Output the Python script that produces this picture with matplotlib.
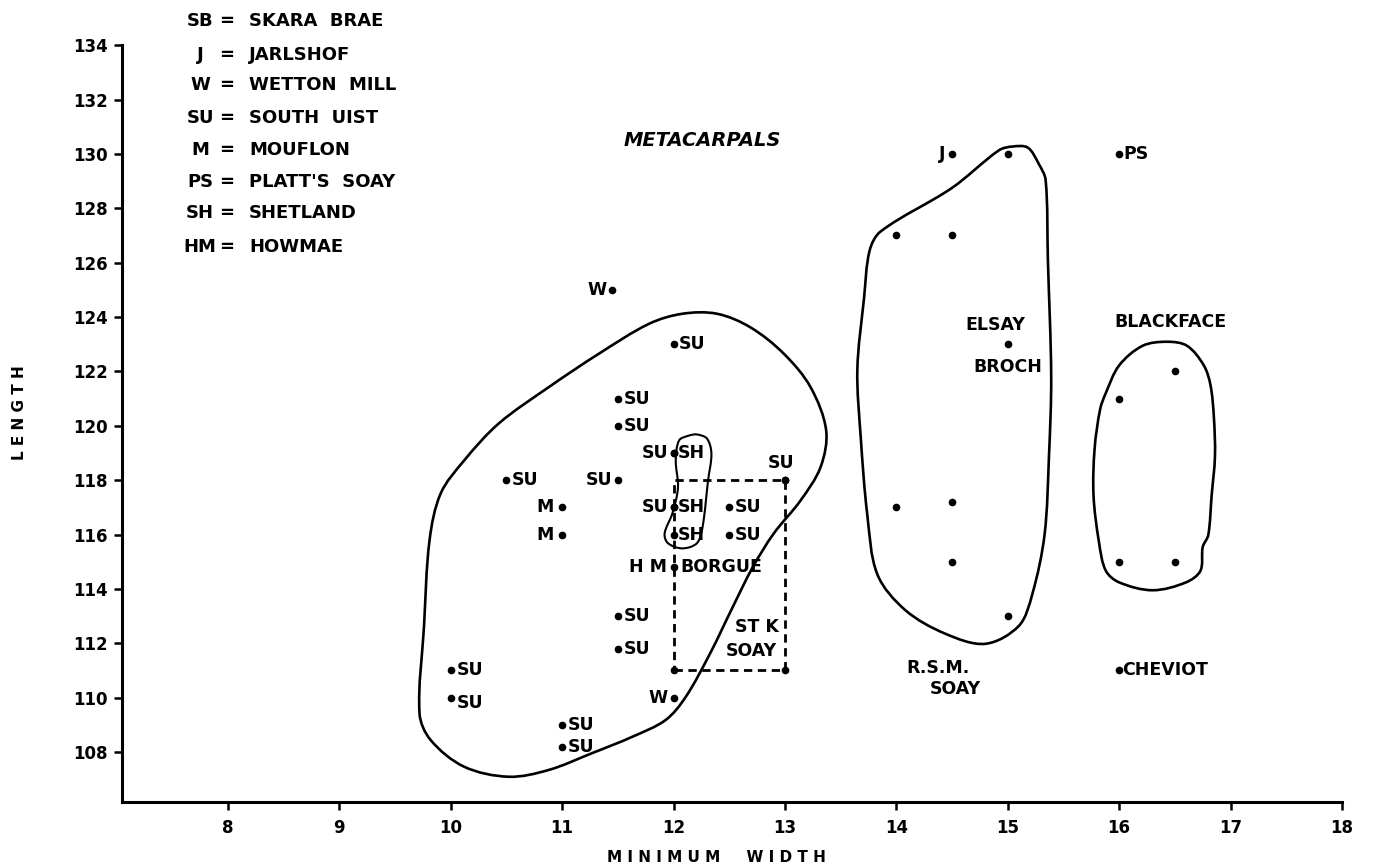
import numpy as np
import matplotlib.pyplot as plt
from matplotlib.path import Path
from matplotlib.patches import PathPatch, Rectangle

# ---- data (minimum width, length) ----
su_x = [12.0, 11.5, 11.5, 12.0, 10.5, 11.5, 12.0, 12.5, 12.5, 11.5, 11.5, 10.0, 10.0, 11.0, 11.0, 13.0]
su_y = [123.0, 121.0, 120.0, 119.0, 118.0, 118.0, 117.0, 117.0, 116.0, 113.0, 111.8, 111.0, 110.0, 109.0, 108.2, 118.0]
su_side = ['r', 'r', 'r', 'l', 'r', 'l', 'l', 'r', 'r', 'r', 'r', 'r', 'r', 'r', 'r', 'u']

sh_x = [12.0, 12.0, 12.0]
sh_y = [119.0, 117.0, 116.0]

m_x = [11.0, 11.0]
m_y = [117.0, 116.0]

w_x = [11.45, 12.0]
w_y = [125.0, 110.0]

hm_x, hm_y = 12.0, 114.8
j_x, j_y = 14.5, 130.0
ps_x, ps_y = 16.0, 130.0
elsay_x, elsay_y = 15.0, 123.0
cheviot_x, cheviot_y = 16.0, 111.0

rsm_x = [15.0, 14.0, 14.5, 14.0, 14.5, 14.5, 15.0]
rsm_y = [130.0, 127.0, 127.0, 117.0, 117.2, 115.0, 113.0]

bf_x = [16.5, 16.0, 16.0, 16.5]
bf_y = [122.0, 121.0, 115.0, 115.0]

stk_x = [12.0, 13.0]      # St Kilda Soay range
stk_y = [111.0, 118.0]

legend_abbr = ['SB', 'J', 'W', 'SU', 'M', 'PS', 'SH', 'HM']
legend_name = ['SKARA  BRAE', 'JARLSHOF', 'WETTON  MILL', 'SOUTH  UIST',
               'MOUFLON', "PLATT'S  SOAY", 'SHETLAND', 'HOWMAE']

# hand-drawn outlines
big_x = [9.72, 9.76, 9.81, 9.91, 10.12, 10.43, 10.88, 11.33, 11.78, 12.08, 12.39, 12.69, 12.99,
         13.23, 13.37, 13.32, 13.14, 12.90, 12.71, 12.53, 12.33, 12.11, 11.93, 11.63, 11.27,
         10.88, 10.52, 10.12, 9.82]
big_y = [109.42, 112.6, 115.79, 117.51, 118.72, 120.08, 121.42, 122.65, 123.75, 124.12, 124.12,
         123.62, 122.65, 121.42, 119.83, 118.48, 117.25, 116.04, 114.79, 113.32, 111.64,
         110.03, 109.18, 108.56, 107.96, 107.34, 107.09, 107.46, 108.44]

shc_x = [12.14, 12.05, 12.02, 12.04, 11.99, 11.92, 11.95, 12.08, 12.21, 12.26, 12.31, 12.34, 12.30, 12.21]
shc_y = [119.64, 119.46, 118.72, 117.73, 116.78, 116.04, 115.68, 115.49, 115.68, 116.26,
         117.99, 118.98, 119.53, 119.68]

rsmc_x = [13.86, 14.50, 14.92, 15.04, 15.18, 15.28, 15.34, 15.36, 15.39, 15.37, 15.33,
          15.22, 15.10, 14.80, 14.44, 14.08, 13.83, 13.74, 13.68, 13.65, 13.71, 13.76]
rsmc_y = [127.15, 128.75, 130.13, 130.27, 130.23, 129.62, 129.04, 126.14, 121.78,
          118.88, 115.98, 113.80, 112.64, 111.98, 112.35, 113.22, 114.53, 116.70, 119.60,
          122.07, 124.69, 126.44]

bfc_x = [16.43, 16.61, 16.76, 16.82, 16.85, 16.86, 16.83, 16.80, 16.75, 16.73, 16.60, 16.30,
         16.00, 15.88, 15.82, 15.77, 15.78, 15.83, 15.88, 16.00, 16.21]
bfc_y = [123.09, 122.94, 122.22, 121.49, 120.33, 118.88, 117.43, 115.98, 115.54, 114.67,
         114.24, 113.95, 114.24, 114.67, 115.69, 117.43, 119.17, 120.62, 121.20, 122.22, 122.94]

PX_PER_X, PX_PER_Y = 111.4, 27.2   # drawing scale, only used to space the curve's handles


def closed_curve(xs, ys):
    # smooth closed outline through the traced points (chord-length cubic Beziers)
    p = np.column_stack([xs, ys])
    n = len(p)
    scale = np.array([PX_PER_X, PX_PER_Y])
    d = [np.linalg.norm((p[(i + 1) % n] - p[i]) * scale) for i in range(n)]
    tang = [(p[(i + 1) % n] - p[i - 1]) / (d[i - 1] + d[i]) for i in range(n)]
    verts = [p[0]]
    codes = [Path.MOVETO]
    for i in range(n):
        j = (i + 1) % n
        verts += [p[i] + tang[i] * d[i] / 3, p[j] - tang[j] * d[i] / 3, p[j]]
        codes += [Path.CURVE4] * 3
    return Path(verts, codes)


plt.rcParams['font.family'] = 'DejaVu Sans'
plt.rcParams['font.weight'] = 'bold'

fig = plt.figure(figsize=(13.73, 8.68), dpi=100)
ax = fig.add_axes([0.0889, 0.076, 0.8885, 0.872])
ax.set_xlim(7.05, 18.0)
ax.set_ylim(106.16, 134.0)

FS = 12.5
dot = dict(color='black', marker='o', markersize=4.5, linestyle='none')


def label(x, y, txt, side='r', dx=4, dy=0):
    if side == 'r':
        ax.annotate(txt, (x, y), xytext=(dx, dy), textcoords='offset points',
                    ha='left', va='center', fontsize=FS, fontweight='bold')
    elif side == 'l':
        ax.annotate(txt, (x, y), xytext=(-dx, dy), textcoords='offset points',
                    ha='right', va='center', fontsize=FS, fontweight='bold')
    else:
        ax.annotate(txt, (x, y), xytext=(-3, 6), textcoords='offset points',
                    ha='center', va='bottom', fontsize=FS, fontweight='bold')


# outlines
for cx, cy, lw in [(big_x, big_y, 1.9), (shc_x, shc_y, 1.5), (rsmc_x, rsmc_y, 1.9), (bfc_x, bfc_y, 1.9)]:
    ax.add_patch(PathPatch(closed_curve(cx, cy), facecolor='none', edgecolor='black', lw=lw))

ax.add_patch(Rectangle((stk_x[0], stk_y[0]), stk_x[1] - stk_x[0], stk_y[1] - stk_y[0],
                       fill=False, edgecolor='black', lw=2.0, linestyle=(0, (3, 2))))
ax.plot([stk_x[1], stk_x[0], stk_x[1]], [stk_y[0], stk_y[0], stk_y[1]], **dot)

# points
ax.plot(su_x, su_y, **dot)
for x, y, s in zip(su_x, su_y, su_side):
    dy = -4 if (x, y) == (10.0, 110.0) else 0
    label(x, y, 'SU', s, dy=dy)

ax.plot(sh_x, sh_y, **dot)
for x, y in zip(sh_x, sh_y):
    label(x, y, 'SH', 'r', dx=3)

ax.plot(m_x, m_y, **dot)
for x, y in zip(m_x, m_y):
    label(x, y, 'M', 'l', dx=6)

ax.plot(w_x, w_y, **dot)
for x, y in zip(w_x, w_y):
    label(x, y, 'W', 'l')

ax.plot([hm_x], [hm_y], **dot)
label(hm_x, hm_y, 'H M', 'l', dx=5)
label(hm_x, hm_y, 'BORGUE', 'r', dx=5)

ax.plot([j_x], [j_y], **dot)
label(j_x, j_y, 'J', 'l', dx=5)
ax.plot([ps_x], [ps_y], **dot)
label(ps_x, ps_y, 'PS', 'r', dx=3)

ax.plot(rsm_x, rsm_y, **dot)
ax.plot(bf_x, bf_y, **dot)
ax.plot([elsay_x], [elsay_y], **dot)
ax.plot([cheviot_x], [cheviot_y], **dot)
label(cheviot_x, cheviot_y, 'CHEVIOT', 'r', dx=2)

# group names
ax.text(14.89, 123.7, 'ELSAY', ha='center', va='center', fontsize=FS, fontweight='bold')
ax.text(15.0, 122.15, 'BROCH', ha='center', va='center', fontsize=FS, fontweight='bold')
ax.text(16.46, 123.8, 'BLACKFACE', ha='center', va='center', fontsize=FS, fontweight='bold')
ax.text(14.37, 111.1, 'R.S.M.', ha='center', va='center', fontsize=FS, fontweight='bold')
ax.text(14.53, 110.3, 'SOAY', ha='center', va='center', fontsize=FS, fontweight='bold')
ax.text(12.75, 112.6, 'ST K', ha='center', va='center', fontsize=FS, fontweight='bold')
ax.text(12.7, 111.7, 'SOAY', ha='center', va='center', fontsize=FS, fontweight='bold')
ax.text(12.26, 130.5, 'METACARPALS', ha='center', va='center', fontsize=14,
        fontweight='bold', style='italic')

# axes styling
for s in ['top', 'right']:
    ax.spines[s].set_visible(False)
for s in ['left', 'bottom']:
    ax.spines[s].set_linewidth(2.2)
ax.set_xticks(range(8, 19))
ax.set_yticks(range(108, 135, 2))
ax.tick_params(axis='both', direction='out', length=6, width=1.8, labelsize=12)
ax.tick_params(axis='y', pad=4)
ax.tick_params(axis='x', pad=6)
for t in ax.get_xticklabels() + ax.get_yticklabels():
    t.set_fontweight('bold')

fig.text(20 / 1373, 1 - 413 / 868, 'L E N G T H', rotation=90, ha='center', va='center',
         fontsize=11, fontweight='bold')
fig.text(716 / 1373, 1 - 857 / 868, 'M I N I M U M     W I D T H', ha='center', va='center',
         fontsize=11, fontweight='bold')

# key
key_y = [21, 55, 85, 118, 150, 182, 213, 247]
for yy, a, nm in zip(key_y, legend_abbr, legend_name):
    fy = 1 - yy / 868
    fig.text(200 / 1373, fy, a, ha='center', va='center', fontsize=13, fontweight='bold')
    fig.text(227 / 1373, fy, '=', ha='center', va='center', fontsize=13, fontweight='bold')
    fig.text(249 / 1373, fy, nm, ha='left', va='center', fontsize=13, fontweight='bold')

fig.savefig('out.png', dpi=100)
